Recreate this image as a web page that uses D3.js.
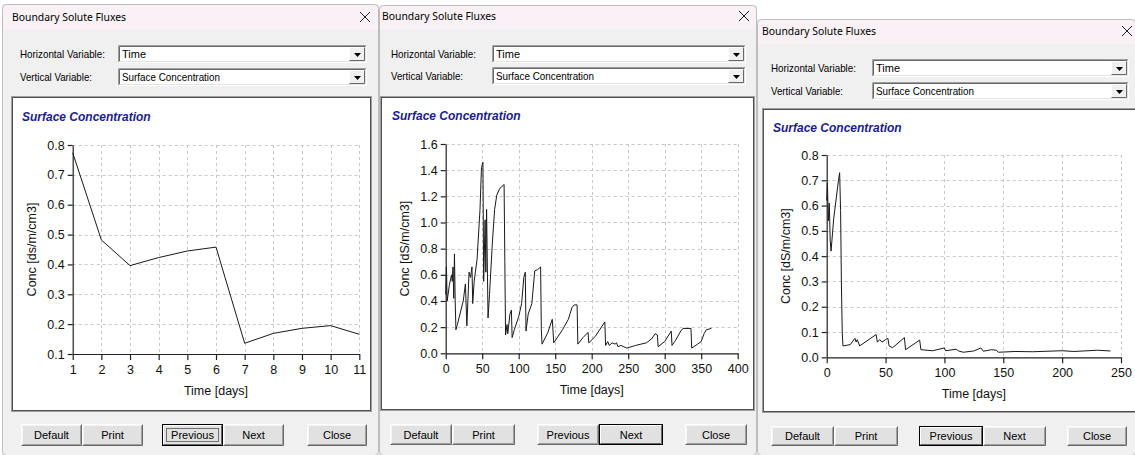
<!DOCTYPE html>
<html>
<head>
<meta charset="utf-8">
<script src="https://cdn.jsdelivr.net/npm/d3@7"></script>
<style>
  html, body { margin: 0; padding: 0; background: #fff; }
  svg { display: block; font-family: "Liberation Sans", Arial, sans-serif; }
</style>
</head>
<body>
<svg id="screen" width="1135" height="455"></svg>
<script>
// Run 1: first 11 days
const days1 = [1, 2, 3, 4, 5, 6, 7, 8, 9, 10, 11];
const conc1 = [0.774, 0.482, 0.396, 0.423, 0.445, 0.458, 0.136, 0.169, 0.186, 0.195, 0.166];
const xTicks1 = [1, 2, 3, 4, 5, 6, 7, 8, 9, 10, 11];
const yTicks1 = [0.1, 0.2, 0.3, 0.4, 0.5, 0.6, 0.7, 0.8];

// Run 2: one year
const days2 = [0, 1, 2, 5, 8, 9, 10, 11, 12, 13, 14, 16, 24, 27, 29, 32, 34, 36, 37, 39, 43, 47, 49, 51,
  52, 54, 55, 56, 58, 60, 64, 67, 70, 74, 80, 81, 82, 84, 85, 88, 90, 91, 94, 100, 104, 107, 109, 110,
  113, 118, 122, 126, 130, 131, 132, 140, 146, 148, 160, 168, 173, 176, 180, 181, 188, 195, 196, 205,
  218, 219, 222, 224, 228, 232, 234, 236, 240, 244, 248, 260, 275, 282, 287, 290, 291, 300, 309, 310,
  315, 322, 325, 336, 337, 345, 350, 354, 357, 364];
const conc2 = [0.45, 0.66, 0.40, 0.52, 0.60, 0.55, 0.66, 0.42, 0.76, 0.40, 0.18, 0.22, 0.40, 0.53, 0.21,
  0.62, 0.58, 0.66, 0.38, 0.55, 0.72, 1.10, 1.42, 1.46, 0.55, 1.02, 0.62, 1.10, 0.27, 0.45, 0.85, 1.10,
  1.21, 1.26, 1.29, 0.70, 0.14, 0.22, 0.15, 0.30, 0.33, 0.12, 0.18, 0.28, 0.38, 0.58, 0.62, 0.17, 0.30,
  0.38, 0.63, 0.64, 0.66, 0.18, 0.07, 0.16, 0.26, 0.08, 0.18, 0.26, 0.35, 0.37, 0.37, 0.07, 0.12, 0.16,
  0.08, 0.13, 0.24, 0.06, 0.09, 0.06, 0.08, 0.07, 0.08, 0.05, 0.06, 0.05, 0.04, 0.06, 0.08, 0.11, 0.15,
  0.14, 0.05, 0.09, 0.17, 0.06, 0.10, 0.17, 0.19, 0.19, 0.04, 0.07, 0.09, 0.15, 0.18, 0.19];
const xTicks2 = [0, 50, 100, 150, 200, 250, 300, 350, 400];
const yTicks2 = [0, 0.2, 0.4, 0.6, 0.8, 1.0, 1.2, 1.4, 1.6];

// Run 3: 241 days
const days3 = [0, 0.6, 1.4, 2.2, 3, 3.7, 6, 10, 11, 11.8, 12.5, 13.2, 13.8, 20, 24, 25, 26, 28, 42, 43,
  45, 47, 50, 52, 53, 56, 66, 67, 79, 80, 90, 100, 101, 110, 112, 116, 125, 131, 133, 140, 144, 146,
  160, 175, 200, 210, 230, 241];
const conc3 = [0.62, 0.69, 0.54, 0.61, 0.46, 0.42, 0.55, 0.70, 0.73, 0.58, 0.29, 0.10, 0.045, 0.05,
  0.075, 0.06, 0.07, 0.045, 0.09, 0.06, 0.07, 0.06, 0.07, 0.075, 0.045, 0.038, 0.078, 0.03, 0.068, 0.03,
  0.026, 0.037, 0.026, 0.032, 0.025, 0.02, 0.025, 0.037, 0.024, 0.03, 0.028, 0.02, 0.023, 0.022, 0.026,
  0.023, 0.028, 0.025];
const xTicks3 = [0, 50, 100, 150, 200, 250];
const yTicks3 = [0, 0.1, 0.2, 0.3, 0.4, 0.5, 0.6, 0.7, 0.8];

const buttonLabels = ['Default', 'Print', 'Previous', 'Next', 'Close'];

// Dialog layouts (positions only)
const dialogs = [
  {
    frame: [2, 4, 379, 455], titleBottom: 30, titleX: 12, titleY: 17, closeX: 365,
    labelX: 20, combo: [118, 367], rows: [45, 68],
    panel: [11, 96, 372, 412], heading: [22, 121],
    plot: [72.7, 145, 359.3, 354],
    btnY: [424, 446], btnX: [[21, 82], [82, 143], [162, 223], [223, 284], [307, 367]],
    defaultBtn: 2, focus: true,
    xs: days1, ys: conc1, xTicks: xTicks1, yTicks: yTicks1,
    xFmt: d3.format('d'), yLabel: 'Conc [ds/m/cm3]'
  },
  {
    frame: [379, 5, 757, 455], titleBottom: 29, titleX: 382, titleY: 16, closeX: 744,
    labelX: 391, combo: [492, 746], rows: [45, 67],
    panel: [380, 96, 755, 411], heading: [392, 120],
    plot: [445.7, 144, 737.7, 353.3],
    btnY: [424, 445], btnX: [[390, 452], [452, 515], [537, 599], [599, 663], [685, 747]],
    defaultBtn: 3, focus: false,
    xs: days2, ys: conc2, xTicks: xTicks2, yTicks: yTicks2,
    xFmt: d3.format('d'), yLabel: 'Conc [dS/m/cm3]'
  },
  {
    frame: [757, 19, 1136, 455], titleBottom: 44, titleX: 762, titleY: 31, closeX: 1127,
    labelX: 771, combo: [872, 1129], rows: [59, 82],
    panel: [762, 108, 1137, 413], heading: [773, 132],
    plot: [826.7, 155, 1121, 357.3],
    btnY: [426, 446], btnX: [[771, 834], [834, 898], [919, 983], [983, 1046], [1067, 1127]],
    defaultBtn: 2, focus: false,
    xs: days3, ys: conc3, xTicks: xTicks3, yTicks: yTicks3,
    xFmt: d3.format('d'), yLabel: 'Conc [dS/m/cm3]'
  }
];

const svg = d3.select('#screen');

// Sunken / raised 3D edge helper
function bevel(g, x0, y0, x1, y1, light, dark) {
  g.append('path').attr('d', `M${x0},${y1}V${y0}H${x1}`).attr('fill', 'none').attr('stroke', light);
  g.append('path').attr('d', `M${x0},${y1}H${x1}V${y0}`).attr('fill', 'none').attr('stroke', dark);
}

function drawCombo(g, x0, x1, y0, text) {
  const h = 18;
  g.append('rect').attr('x', x0).attr('y', y0).attr('width', x1 - x0).attr('height', h).attr('fill', '#fff');
  bevel(g, x0 + 0.5, y0 + 0.5, x1 - 0.5, y0 + h - 0.5, '#a0a0a0', '#fff');
  bevel(g, x0 + 1.5, y0 + 1.5, x1 - 1.5, y0 + h - 1.5, '#696969', '#e3e3e3');
  // drop button
  const bx = x1 - 18;
  g.append('rect').attr('x', bx).attr('y', y0 + 2).attr('width', 16).attr('height', h - 4).attr('fill', '#f0f0f0');
  bevel(g, bx + 0.5, y0 + 2.5, x1 - 2.5, y0 + h - 2.5, '#fff', '#696969');
  g.append('path')
    .attr('d', `M${bx + 5},${y0 + 8}h7l-3.5,4z`)
    .attr('fill', '#000');
  g.append('text').attr('x', x0 + 4).attr('y', y0 + 13)
    .attr('font-size', 11).attr('fill', '#000').text(text)
    .each(function () {
      if (text.length > 10) d3.select(this).attr('textLength', 98).attr('lengthAdjust', 'spacingAndGlyphs');
    });
}

function drawButton(g, x0, x1, y0, y1, label, isDefault, focus) {
  g.append('rect').attr('x', x0).attr('y', y0).attr('width', x1 - x0).attr('height', y1 - y0).attr('fill', '#e1e1e1');
  if (isDefault) {
    g.append('rect').attr('x', x0 + 0.5).attr('y', y0 + 0.5).attr('width', x1 - x0 - 1).attr('height', y1 - y0 - 1)
      .attr('fill', 'none').attr('stroke', '#000');
    bevel(g, x0 + 1.5, y0 + 1.5, x1 - 1.5, y1 - 1.5, '#fff', '#696969');
  } else {
    bevel(g, x0 + 0.5, y0 + 0.5, x1 - 0.5, y1 - 0.5, '#fff', '#696969');
    bevel(g, x0 + 1.5, y0 + 1.5, x1 - 1.5, y1 - 1.5, '#f4f4f4', '#a0a0a0');
  }
  if (focus) {
    g.append('rect').attr('x', x0 + 4.5).attr('y', y0 + 4.5).attr('width', x1 - x0 - 9).attr('height', y1 - y0 - 9)
      .attr('fill', 'none').attr('stroke', '#000').attr('stroke-dasharray', '1,1');
  }
  g.append('text').attr('x', (x0 + x1) / 2).attr('y', (y0 + y1) / 2 + 4)
    .attr('text-anchor', 'middle').attr('font-size', 11).attr('fill', '#000').text(label);
}

function drawChart(g, d) {
  const [px0, py0, px1, py1] = d.plot;
  const x = d3.scaleLinear().domain(d3.extent(d.xTicks)).range([px0, px1]);
  const y = d3.scaleLinear().domain(d3.extent(d.yTicks)).range([py1, py0]);

  // grid
  g.append('g').selectAll('line').data(d.xTicks.slice(1)).join('line')
    .attr('x1', v => Math.round(x(v)) + 0.5).attr('x2', v => Math.round(x(v)) + 0.5)
    .attr('y1', py0).attr('y2', py1)
    .attr('stroke', '#c8c8c8').attr('stroke-dasharray', '3,3');
  g.append('g').selectAll('line').data(d.yTicks.slice(1)).join('line')
    .attr('y1', v => Math.round(y(v)) + 0.5).attr('y2', v => Math.round(y(v)) + 0.5)
    .attr('x1', px0).attr('x2', px1)
    .attr('stroke', '#c8c8c8').attr('stroke-dasharray', '3,3');

  // axes
  const xAxis = g.append('g').attr('transform', `translate(0,${py1})`)
    .call(d3.axisBottom(x).tickValues(d.xTicks).tickFormat(d.xFmt).tickSize(6).tickSizeOuter(0).tickPadding(5));
  const yAxis = g.append('g').attr('transform', `translate(${px0},0)`)
    .call(d3.axisLeft(y).tickValues(d.yTicks).tickFormat(d3.format('.1f')).tickSize(5).tickSizeOuter(0).tickPadding(3));
  [xAxis, yAxis].forEach(a => {
    a.attr('font-family', '"Liberation Sans", Arial, sans-serif').attr('font-size', 12.5);
    a.selectAll('path, line').attr('stroke', '#222').attr('stroke-width', 1.2);
    a.selectAll('text').attr('fill', '#111');
  });

  // series line
  const pts = d.xs.map((v, i) => [v, d.ys[i]]);
  g.append('path').datum(pts)
    .attr('d', d3.line().x(p => x(p[0])).y(p => y(p[1])))
    .attr('fill', 'none').attr('stroke', '#1a1a1a').attr('stroke-width', 1).attr('stroke-linejoin', 'round');

  // axis titles
  g.append('text').attr('x', (px0 + px1) / 2).attr('y', py1 + 41)
    .attr('text-anchor', 'middle').attr('font-size', 12.5).attr('fill', '#111').text('Time [days]');
  g.append('text')
    .attr('transform', `translate(${px0 - 37},${(py0 + py1) / 2}) rotate(-90)`)
    .attr('text-anchor', 'middle').attr('font-size', 12.5).attr('fill', '#111').text(d.yLabel);
}

dialogs.forEach(d => {
  const g = svg.append('g');
  const [fx0, fy0, fx1, fy1] = d.frame;

  // window body and title bar
  g.append('rect').attr('x', fx0).attr('y', fy0).attr('width', fx1 - fx0).attr('height', fy1 - fy0).attr('fill', '#f0f0f0');
  g.append('rect').attr('x', fx0).attr('y', fy0).attr('width', fx1 - fx0).attr('height', d.titleBottom - fy0).attr('fill', '#f9f1f5');
  g.append('rect').attr('x', fx0 + 0.5).attr('y', fy0 + 0.5).attr('width', fx1 - fx0 - 1).attr('height', fy1 - fy0)
    .attr('rx', 4).attr('fill', 'none').attr('stroke', '#bdbdbd');
  g.append('text').attr('x', d.titleX).attr('y', d.titleY + 4)
    .attr('font-family', '"Noto Sans", "Liberation Sans", sans-serif').attr('font-size', 11)
    .attr('textLength', 114).attr('lengthAdjust', 'spacingAndGlyphs')
    .attr('fill', '#000').text('Boundary Solute Fluxes');
  g.append('path')
    .attr('d', `M${d.closeX - 5},${d.titleY - 5}l10,10M${d.closeX + 5},${d.titleY - 5}l-10,10`)
    .attr('stroke', '#222').attr('stroke-width', 1);

  // variable selectors
  const labels = [['Horizontal Variable:', 85, 'Time'], ['Vertical Variable:', 72, 'Surface Concentration']];
  labels.forEach((l, i) => {
    g.append('text').attr('x', d.labelX).attr('y', d.rows[i] + 13)
      .attr('font-size', 11).attr('textLength', l[1]).attr('lengthAdjust', 'spacingAndGlyphs')
      .attr('fill', '#000').text(l[0]);
    drawCombo(g, d.combo[0], d.combo[1], d.rows[i], l[2]);
  });

  // chart panel
  const [qx0, qy0, qx1, qy1] = d.panel;
  g.append('rect').attr('x', qx0 + 0.5).attr('y', qy0 + 0.5).attr('width', qx1 - qx0 - 1).attr('height', qy1 - qy0 - 1)
    .attr('fill', '#fff').attr('stroke', '#a0a0a0');
  g.append('rect').attr('x', qx0 + 1.5).attr('y', qy0 + 1.5).attr('width', qx1 - qx0 - 3).attr('height', qy1 - qy0 - 3)
    .attr('fill', 'none').attr('stroke', '#505050');
  g.append('text').attr('x', d.heading[0]).attr('y', d.heading[1])
    .attr('font-size', 12).attr('font-weight', 'bold').attr('font-style', 'italic')
    .attr('fill', '#1c1c8c').text('Surface Concentration');

  drawChart(g, d);

  // buttons
  d.btnX.forEach((b, i) => {
    drawButton(g, b[0], b[1], d.btnY[0], d.btnY[1], buttonLabels[i], i === d.defaultBtn, d.focus && i === d.defaultBtn);
  });
});
</script>
</body>
</html>
